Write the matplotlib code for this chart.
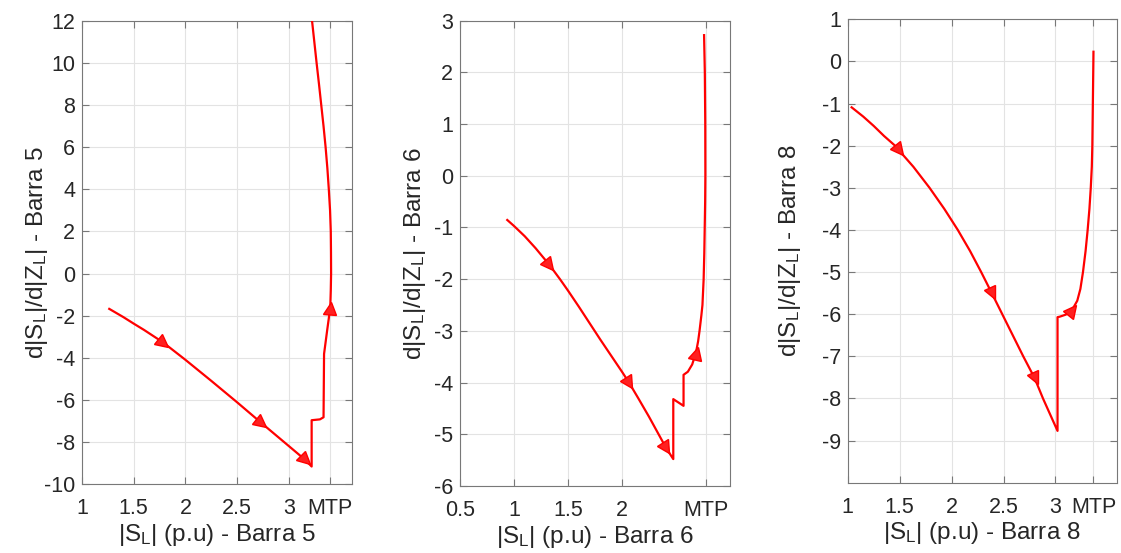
import numpy as np
import matplotlib
matplotlib.use("Agg")
import matplotlib.pyplot as plt
from matplotlib.markers import MarkerStyle
from matplotlib.transforms import Affine2D

plt.rcParams['font.family'] = ['Liberation Sans', 'DejaVu Sans']
plt.rcParams['mathtext.default'] = 'regular'
plt.rcParams['axes.unicode_minus'] = False

# ---- Barra 5 ----
s5 = [1.264, 1.40, 1.50, 1.60, 1.786, 2.00, 2.25, 2.50, 2.734, 3.00, 3.157, 3.22,
      3.22, 3.30, 3.335, 3.34, 3.37, 3.40, 3.405, 3.408, 3.407, 3.405, 3.398, 3.386,
      3.372, 3.355, 3.335, 3.313, 3.291, 3.268, 3.246, 3.224]
d5 = [-1.68, -2.07, -2.38, -2.68, -3.28, -4.1, -5.1, -6.12, -7.1, -8.2, -8.85, -9.17,
      -6.97, -6.93, -6.83, -3.82, -2.7, -1.62, -0.8, 0.0, 1.0, 2.0, 3.0, 4.0,
      5.0, 6.0, 7.0, 8.0, 9.0, 10.0, 11.0, 12.0]
arrows5 = [4, 8, 10, 17]
mtp5 = 3.40
xticks5 = [1, 1.5, 2, 2.5, 3, mtp5]
xlabels5 = ['1', '1.5', '2', '2.5', '3', 'MTP']
yticks5 = [-10, -8, -6, -4, -2, 0, 2, 4, 6, 8, 10, 12]

# ---- Barra 6 ----
s6 = [0.938, 1.00, 1.10, 1.20, 1.327, 1.426, 1.50, 1.60, 1.70, 1.80, 1.90, 2.00,
      2.065, 2.15, 2.25, 2.41, 2.475, 2.475, 2.57, 2.57, 2.61, 2.65, 2.685, 2.705,
      2.718, 2.735, 2.745, 2.756, 2.762, 2.766, 2.77, 2.772, 2.771, 2.767, 2.76]
d6 = [-0.855, -0.97, -1.17, -1.40, -1.72, -2.0, -2.22, -2.53, -2.85, -3.17, -3.48, -3.79,
      -4.0, -4.3, -4.66, -5.27, -5.48, -4.32, -4.45, -3.85, -3.79, -3.65, -3.42, -3.2,
      -3.0, -2.7, -2.5, -2.0, -1.5, -1.0, -0.5, 0.0, 1.0, 2.0, 2.72]
arrows6 = [4, 12, 15, 22]
mtp6 = 2.775
xticks6 = [0.5, 1, 1.5, 2, mtp6]
xlabels6 = ['0.5', '1', '1.5', '2', 'MTP']
yticks6 = [-6, -5, -4, -3, -2, -1, 0, 1, 2, 3]

# ---- Barra 8 ----
s8 = [1.038, 1.15, 1.25, 1.35, 1.456, 1.49, 1.632, 1.788, 1.93, 2.06, 2.178, 2.285,
      2.387, 2.488, 2.69, 2.80, 2.88, 3.02, 3.02, 3.04, 3.10, 3.16, 3.21, 3.24,
      3.265, 3.29, 3.31, 3.327, 3.34, 3.35, 3.355, 3.36, 3.365, 3.366]
d8 = [-1.09, -1.31, -1.53, -1.77, -2.0, -2.1, -2.5, -3.0, -3.5, -4.0, -4.5, -5.0,
      -5.5, -6.0, -7.0, -7.52, -8.0, -8.77, -6.07, -6.06, -6.01, -5.9, -5.68, -5.4,
      -5.0, -4.5, -4.0, -3.5, -3.0, -2.5, -2.0, -1.0, 0.0, 0.23]
arrows8 = [5, 12, 15, 21]
mtp8 = 3.366
xticks8 = [1, 1.5, 2, 2.5, 3, mtp8]
xlabels8 = ['1', '1.5', '2', '2.5', '3', 'MTP']
yticks8 = [-9, -8, -7, -6, -5, -4, -3, -2, -1, 0, 1]

panels = [
    dict(s=s5, d=d5, arrows=arrows5, xt=xticks5, xl=xlabels5, yt=yticks5,
         xlim=(1, 3.61), ylim=(-10, 12), bus='5',
         rect=[0.0731, 0.1248, 0.2409, 0.8373], ylx=-0.118),
    dict(s=s6, d=d6, arrows=arrows6, xt=xticks6, xl=xlabels6, yt=yticks6,
         xlim=(0.5, 3.0), ylim=(-6, 3), bus='6',
         rect=[0.4103, 0.1212, 0.2409, 0.8414], ylx=-0.12),
    dict(s=s8, d=d8, arrows=arrows8, xt=xticks8, xl=xlabels8, yt=yticks8,
         xlim=(1, 3.59), ylim=(-10, 1), bus='8',
         rect=[0.7562, 0.1271, 0.2400, 0.8380], ylx=-0.165),
]

fig = plt.figure(figsize=(11.21, 5.53), dpi=100)
text_c = '#262626'
spine_c = '#787878'

for p in panels:
    ax = fig.add_axes(p['rect'])
    x = np.array(p['s'])
    y = np.array(p['d'])
    ax.plot(x, y, color='#ff0000', lw=1.6, clip_on=True, zorder=3)
    ax.set_xlim(*p['xlim'])
    ax.set_ylim(*p['ylim'])
    ax.set_xticks(p['xt'])
    ax.set_xticklabels(p['xl'])
    ax.set_yticks(p['yt'])
    ax.grid(True, color='#e3e3e3', lw=0.8)
    ax.set_axisbelow(True)
    for sp in ax.spines.values():
        sp.set_color(spine_c)
        sp.set_linewidth(0.8)
    ax.tick_params(direction='in', length=5, width=0.8, color=spine_c,
                   labelcolor=text_c, labelsize=15.5, top=True, right=True, pad=5)
    ax.tick_params(axis='x', pad=10)
    ax.set_xlabel('|S$_L$| (p.u) - Barra ' + p['bus'], fontsize=17.5, color=text_c, labelpad=2)
    ax.set_ylabel('d|S$_L$|/d|Z$_L$| - Barra ' + p['bus'], fontsize=17.5, color=text_c)
    ax.yaxis.set_label_coords(p['ylx'], 0.5)

    # arrowheads showing direction along the curve
    fig.canvas.draw()
    pts = ax.transData.transform(np.column_stack([x, y]))
    for i in p['arrows']:
        d = pts[min(i + 1, len(pts) - 1)] - pts[max(i - 1, 0)]
        ang = np.degrees(np.arctan2(d[1], d[0]))
        m = MarkerStyle('^', transform=Affine2D().rotate_deg(ang - 90))
        ax.plot(x[i], y[i], marker=m, ms=9, color='#ff0000', mec='#ff0000',
                mfc='#ff2020', mew=1.0, ls='none', zorder=4)

fig.savefig('out.png', dpi=100)
